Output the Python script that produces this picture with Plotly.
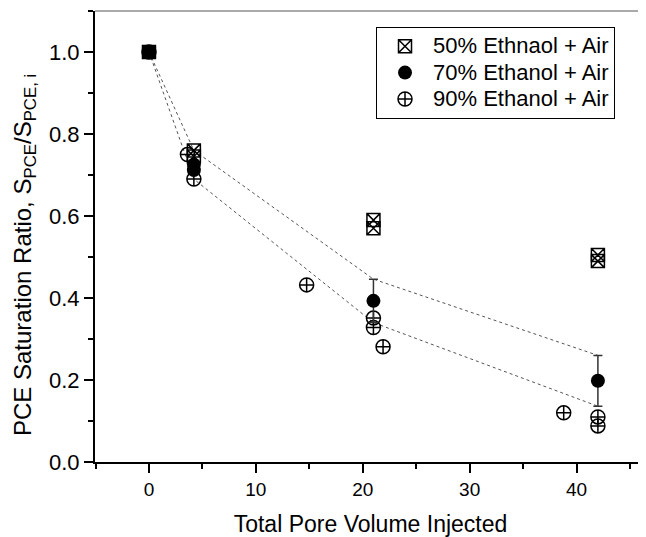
import plotly.graph_objects as go

# ---- data ----
x50 = [0, 4.2, 4.2, 21, 21, 42, 42]
y50 = [1.0, 0.76, 0.745, 0.59, 0.57, 0.505, 0.49]

x70 = [0, 4.2, 4.2, 21, 42]
y70 = [1.0, 0.725, 0.712, 0.393, 0.198]
err70 = [0, 0, 0, 0.053, 0.062]

x90 = [0, 3.6, 4.2, 14.75, 21, 21, 21.9, 38.8, 42, 42]
y90 = [1.0, 0.75, 0.69, 0.432, 0.351, 0.328, 0.281, 0.12, 0.11, 0.088]

x_env = [0, 4.2, 21, 42]
y_env_upper = [1.0, 0.76, 0.446, 0.26]
y_env_lower = [1.0, 0.69, 0.34, 0.136]

names = ["50% Ethnaol + Air", "70% Ethanol + Air", "90% Ethanol + Air"]
x_title = "Total Pore Volume Injected"
y_title = "PCE Saturation Ratio, S<sub>PCE</sub>/S<sub>PCE, i</sub>"

FONT = "Liberation Sans, Arial, sans-serif"


def leg(name):
    return '<span style="font-size:22px">' + name + '</span>'


fig = go.Figure()

for yy in (y_env_upper, y_env_lower):
    fig.add_trace(go.Scatter(x=x_env, y=yy, mode="lines", showlegend=False,
                             line=dict(color="#555555", width=1, dash="3px,3px"),
                             hoverinfo="skip"))

fig.add_trace(go.Scatter(x=x90, y=y90, mode="markers", name=leg(names[2]), legendrank=3,
                         marker=dict(symbol="circle-cross-open", size=14, color="black",
                                     line=dict(width=1.5, color="black"))))
fig.add_trace(go.Scatter(x=x50, y=y50, mode="markers", name=leg(names[0]), legendrank=1,
                         marker=dict(symbol="square-x-open", size=13, color="black",
                                     line=dict(width=1.5, color="black"))))
fig.add_trace(go.Scatter(x=x70, y=y70, mode="markers", name=leg(names[1]), legendrank=2,
                         marker=dict(symbol="circle", size=14, color="black"),
                         error_y=dict(type="data", array=err70, visible=True,
                                      color="#333333", thickness=1.5, width=4.5)))

fig.update_layout(
    width=638, height=529,
    margin=dict(l=87, r=0, t=3, b=75),
    plot_bgcolor="white", paper_bgcolor="white",
    font=dict(family=FONT, size=20, color="black"),
    legend=dict(x=0.51, y=0.9645, xanchor="left", yanchor="top",
                bordercolor="black", borderwidth=1, bgcolor="white",
                font=dict(size=18), tracegroupgap=0, itemwidth=46),
    shapes=[dict(type="line", xref="paper", yref="paper", x0=0, x1=1, y0=1, y1=1,
                 line=dict(color="#aaaaaa", width=2))],
    annotations=[dict(text=y_title, textangle=-90, xref="paper", yref="paper",
                      x=-0.127, y=0.459, xanchor="center", yanchor="middle",
                      showarrow=False, font=dict(size=24))],
)

fig.update_xaxes(range=[-5.05, 46.5], showgrid=False, zeroline=False,
                 showline=True, linecolor="black", linewidth=2,
                 ticks="outside", ticklen=9, tickwidth=1.5, tickcolor="black",
                 dtick=10, tick0=0,
                 minor=dict(ticks="outside", ticklen=5, tickwidth=1.5, dtick=5, tick0=0,
                            tickcolor="black"),
                 tickfont=dict(size=19),
                 title=dict(text=x_title, font=dict(size=23), standoff=21))
fig.update_yaxes(range=[0, 1.1], showgrid=False, zeroline=False,
                 showline=True, linecolor="black", linewidth=2,
                 ticks="outside", ticklen=9, tickwidth=1.5, tickcolor="black",
                 dtick=0.2, tick0=0, tickformat=".1f",
                 minor=dict(ticks="outside", ticklen=5, tickwidth=1.5, dtick=0.1, tick0=0,
                            tickcolor="black"),
                 tickfont=dict(size=22))

fig.write_html("out.html")
